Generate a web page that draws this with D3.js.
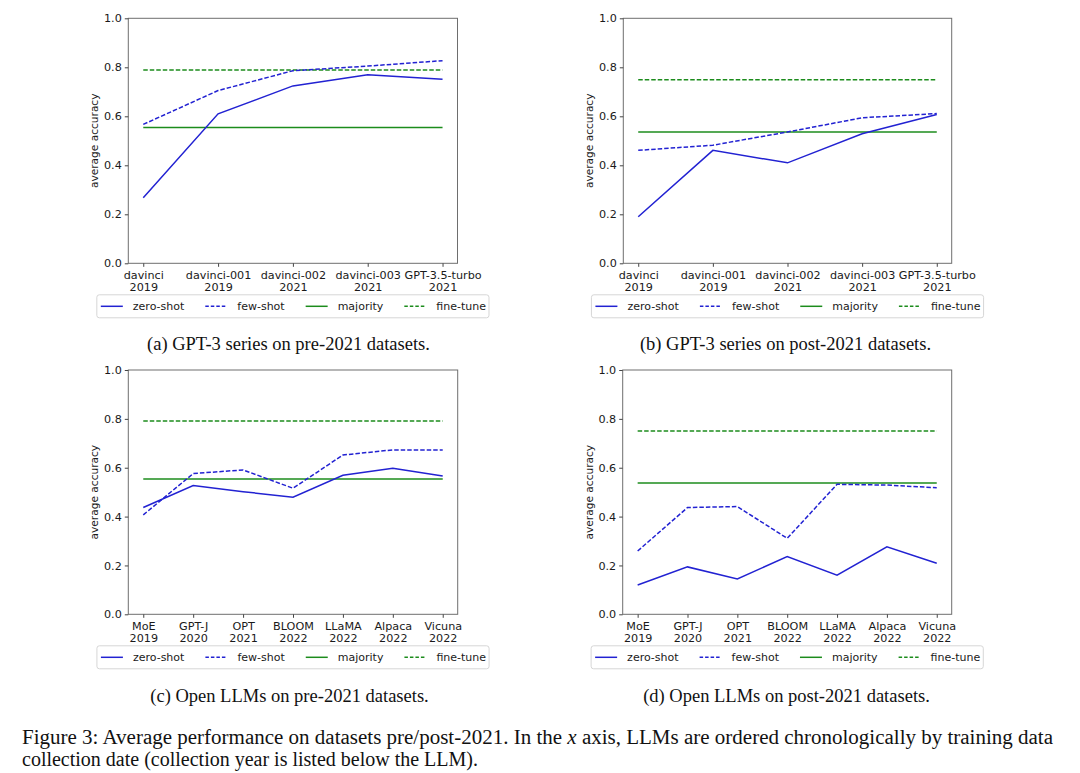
<!DOCTYPE html>
<html>
<head>
<meta charset="utf-8">
<script src="https://cdn.jsdelivr.net/npm/d3@7"></script>
<style>
  body { margin: 0; background: #fff; }
  svg { display: block; }
</style>
</head>
<body>
<svg id="fig" width="1080" height="773"></svg>
<script>
// model names + collection year (two-line tick labels)
var gptModels = ["davinci", "davinci-001", "davinci-002", "davinci-003", "GPT-3.5-turbo"];
var gptYears = ["2019", "2019", "2021", "2021", "2021"];
var openModels = ["MoE", "GPT-J", "OPT", "BLOOM", "LLaMA", "Alpaca", "Vicuna"];
var openYears = ["2019", "2020", "2021", "2022", "2022", "2022", "2022"];

// (a) GPT-3 pre-2021
var aZero = [0.268, 0.610, 0.724, 0.770, 0.751];
var aFew = [0.567, 0.705, 0.786, 0.805, 0.827];
var aMajority = 0.554, aFine = 0.789;
// (b) GPT-3 post-2021
var bZero = [0.190, 0.461, 0.410, 0.529, 0.607];
var bFew = [0.461, 0.482, 0.536, 0.594, 0.611];
var bMajority = 0.536, bFine = 0.749;
// (c) open LLMs pre-2021
var cZero = [0.437, 0.527, 0.502, 0.479, 0.569, 0.598, 0.566];
var cFew = [0.407, 0.576, 0.591, 0.516, 0.652, 0.673, 0.673];
var cMajority = 0.554, cFine = 0.791;
// (d) open LLMs post-2021
var dZero = [0.120, 0.194, 0.145, 0.236, 0.160, 0.276, 0.209];
var dFew = [0.259, 0.437, 0.441, 0.311, 0.532, 0.529, 0.518];
var dMajority = 0.537, dFine = 0.750;

var yTicks = [0, 0.2, 0.4, 0.6, 0.8, 1.0];
var legendNames = ["zero-shot", "few-shot", "majority", "fine-tune"];
var subCaptions = ["(a) GPT-3 series on pre-2021 datasets.", "(b) GPT-3 series on post-2021 datasets.",
                   "(c) Open LLMs on pre-2021 datasets.", "(d) Open LLMs on post-2021 datasets."];

var BLUE = "#2222d2", GREEN = "#1c8c1c";
var svg = d3.select("#fig");

var panels = [
  {x0: 128.3, x1: 457.5, y0: 18.3, y1: 263.3, names: gptModels, years: gptYears, zero: aZero, few: aFew, maj: aMajority, fine: aFine, cap: subCaptions[0], capY: 350, capX: 288.5},
  {x0: 623.3, x1: 951.7, y0: 18.3, y1: 263.3, names: gptModels, years: gptYears, zero: bZero, few: bFew, maj: bMajority, fine: bFine, cap: subCaptions[1], capY: 350, capX: 785.5},
  {x0: 128.3, x1: 457.7, y0: 370, y1: 614.3, names: openModels, years: openYears, zero: cZero, few: cFew, maj: cMajority, fine: cFine, cap: subCaptions[2], capY: 701.5, capX: 289.5},
  {x0: 622.7, x1: 951.7, y0: 370, y1: 614.3, names: openModels, years: openYears, zero: dZero, few: dFew, maj: dMajority, fine: dFine, cap: subCaptions[3], capY: 701.5, capX: 786.5}
];

panels.forEach(function (p) {
  var n = p.names.length;
  var m = (n - 1) * 0.05;
  var x = d3.scaleLinear().domain([-m, n - 1 + m]).range([p.x0, p.x1]);
  var y = d3.scaleLinear().domain([0, 1]).range([p.y1, p.y0]);
  var g = svg.append("g");

  var line = d3.line().x(function (d, i) { return x(i); }).y(function (d) { return y(d); });
  var idx = d3.range(n);

  // baselines first, then model curves
  g.append("path").datum(idx.map(function () { return p.maj; })).attr("d", line)
    .attr("fill", "none").attr("stroke", GREEN).attr("stroke-width", 1.5);
  g.append("path").datum(idx.map(function () { return p.fine; })).attr("d", line)
    .attr("fill", "none").attr("stroke", GREEN).attr("stroke-width", 1.5).attr("stroke-dasharray", "4.5,2");
  g.append("path").datum(p.zero).attr("d", line)
    .attr("fill", "none").attr("stroke", BLUE).attr("stroke-width", 1.5);
  g.append("path").datum(p.few).attr("d", line)
    .attr("fill", "none").attr("stroke", BLUE).attr("stroke-width", 1.5).attr("stroke-dasharray", "4.5,2");

  // frame
  g.append("rect").attr("x", p.x0).attr("y", p.y0).attr("width", p.x1 - p.x0).attr("height", p.y1 - p.y0)
    .attr("fill", "none").attr("stroke", "#6e6e6e").attr("stroke-width", 1);

  // y axis
  var ya = g.append("g").attr("transform", "translate(" + p.x0 + ",0)")
    .call(d3.axisLeft(y).tickValues(yTicks).tickFormat(d3.format(".1f")).tickSize(3.5).tickPadding(3));
  ya.select(".domain").remove();
  ya.selectAll("line").attr("stroke", "#444");
  ya.selectAll("text").attr("font-family", "DejaVu Sans").attr("font-size", 11.2).attr("fill", "#1a1a1a");

  // x axis, two-line labels
  var xa = g.append("g").attr("transform", "translate(0," + p.y1 + ")")
    .call(d3.axisBottom(x).tickValues(idx).tickFormat("").tickSize(3.5));
  xa.select(".domain").remove();
  xa.selectAll("line").attr("stroke", "#444");
  xa.selectAll(".tick").append("text")
    .attr("font-family", "DejaVu Sans").attr("font-size", 11.2).attr("fill", "#1a1a1a").attr("text-anchor", "middle")
    .each(function (d) {
      var t = d3.select(this);
      t.append("tspan").attr("x", 0).attr("y", 16).text(p.names[d]);
      t.append("tspan").attr("x", 0).attr("y", 28).text(p.years[d]);
    });

  // y label
  g.append("text").attr("transform", "translate(" + (p.x0 - 30) + "," + ((p.y0 + p.y1) / 2) + ") rotate(-90)")
    .attr("text-anchor", "middle").attr("font-family", "DejaVu Sans").attr("font-size", 10.6).attr("fill", "#1a1a1a")
    .text("average accuracy");

  // legend below the axes
  var lg = g.append("g");
  var ly = p.y1 + 43;
  var styles = [{c: BLUE, d: null}, {c: BLUE, d: "4.5,2"}, {c: GREEN, d: null}, {c: GREEN, d: "4.5,2"}];
  var box = lg.append("rect").attr("fill", "#fff").attr("stroke", "#d6d6d6").attr("rx", 2.5);
  var cx = 4;
  legendNames.forEach(function (name, i) {
    var h = lg.append("line").attr("x1", cx).attr("x2", cx + 22).attr("y1", ly).attr("y2", ly)
      .attr("stroke", styles[i].c).attr("stroke-width", 1.5);
    if (styles[i].d) h.attr("stroke-dasharray", "3.5,2");
    var t = lg.append("text").attr("x", cx + 32).attr("y", ly + 4).attr("font-family", "DejaVu Sans")
      .attr("font-size", 11).attr("fill", "#1a1a1a").text(name);
    cx += 32 + t.node().getComputedTextLength() + 21;
  });
  var lw = cx - 21 + 3;
  box.attr("x", 0).attr("y", ly - 11.5).attr("width", lw).attr("height", 23);
  lg.attr("transform", "translate(" + ((p.x0 + p.x1) / 2 - lw / 2) + ",0)");

  // sub-caption
  svg.append("text").attr("x", p.capX).attr("y", p.capY).attr("text-anchor", "middle")
    .attr("font-family", "Liberation Serif").attr("font-size", 18.5).attr("fill", "#111").text(p.cap);
});

// figure caption
var cap1 = svg.append("text").attr("x", 22).attr("y", 744).attr("font-family", "Liberation Serif")
  .attr("font-size", 20).attr("fill", "#111").attr("textLength", 1031).attr("lengthAdjust", "spacingAndGlyphs");
cap1.append("tspan").text("Figure 3: Average performance on datasets pre/post-2021. In the ");
cap1.append("tspan").attr("font-style", "italic").text("x");
cap1.append("tspan").text(" axis, LLMs are ordered chronologically by training data");
svg.append("text").attr("x", 22).attr("y", 766).attr("font-family", "Liberation Serif")
  .attr("font-size", 20).attr("fill", "#111")
  .text("collection date (collection year is listed below the LLM).");
</script>
</body>
</html>
